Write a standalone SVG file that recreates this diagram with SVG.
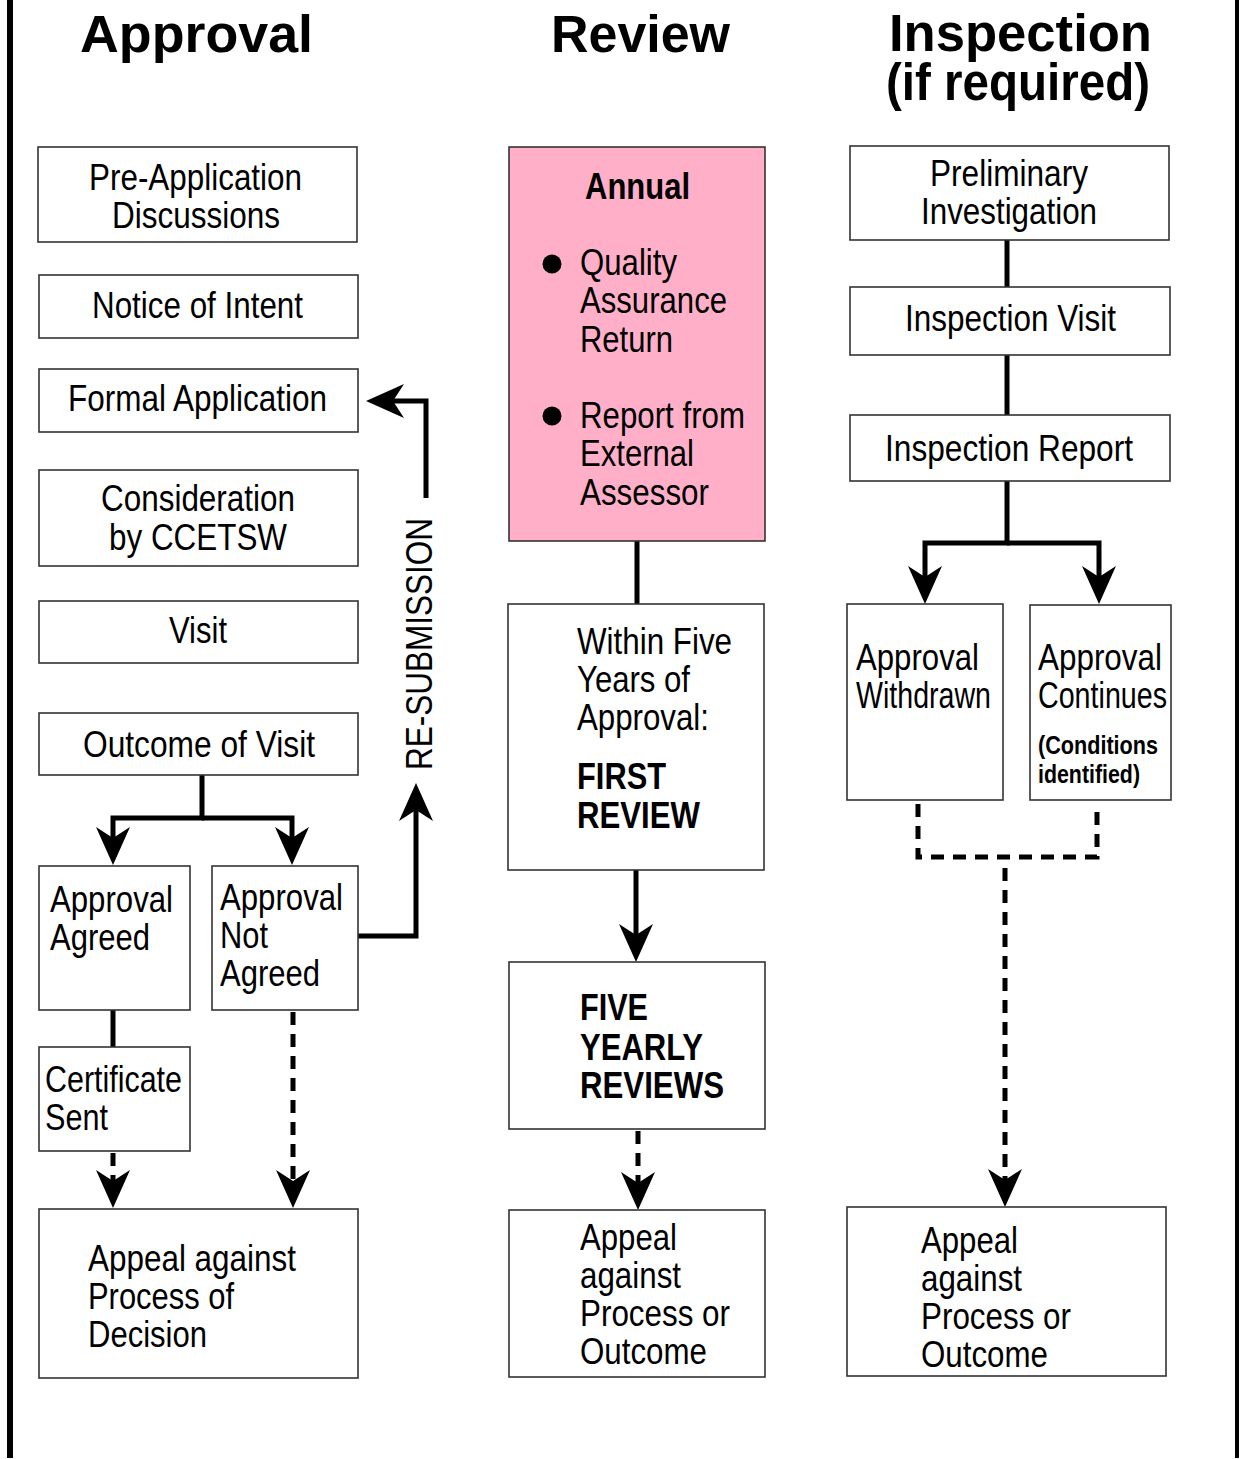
<svg xmlns="http://www.w3.org/2000/svg" width="1239" height="1459" viewBox="0 0 1239 1459">
<style>
.box{fill:#fff;stroke:#333;stroke-width:1.6}
.pink{fill:#ffafc8;stroke:#333;stroke-width:1.6}
.t{font-family:"Liberation Sans Narrow","Liberation Sans",Arial,sans-serif;font-size:36px;fill:#000}
.b{font-weight:bold}
.s{font-size:26px;font-weight:bold}
.h{font-family:"Liberation Sans",Arial,sans-serif;font-size:51px;font-weight:bold;fill:#000}
.ln{fill:none;stroke:#000;stroke-width:5}
.dash{fill:none;stroke:#000;stroke-width:5;stroke-dasharray:13 9}
</style>
<defs>
<marker id="ah" markerUnits="userSpaceOnUse" markerWidth="40" markerHeight="36" viewBox="0 -18 40 36" refX="11" refY="0" orient="auto">
<path d="M0,-17 L38,0 L0,17 L11,0 Z" fill="#000"/>
</marker>
</defs>
<rect x="0" y="0" width="1239" height="1459" fill="#fff"/>
<rect x="7" y="0" width="6" height="1458" fill="#000"/>
<rect x="1235" y="0" width="4" height="1458" fill="#000"/>

<g id="headers">
<text class="h" x="80" y="52" textLength="233" lengthAdjust="spacingAndGlyphs">Approval</text>
<text class="h" x="551" y="52" textLength="179" lengthAdjust="spacingAndGlyphs">Review</text>
<text class="h" x="889" y="51" textLength="263" lengthAdjust="spacingAndGlyphs">Inspection</text>
<text class="h" x="886" y="100" textLength="264" lengthAdjust="spacingAndGlyphs">(if required)</text>
</g>

<g id="connectors">
<polyline class="ln" points="202,775 202,818 113,818 113,838" marker-end="url(#ah)"/>
<polyline class="ln" points="202,818 292,818 292,838" marker-end="url(#ah)"/>
<line class="ln" x1="113" y1="1010" x2="113" y2="1047"/>
<line class="dash" x1="113" y1="1153" x2="113" y2="1181" marker-end="url(#ah)"/>
<line class="dash" x1="293" y1="1012" x2="293" y2="1181" marker-end="url(#ah)"/>
<polyline class="ln" points="358,936 416,936 416,810" marker-end="url(#ah)"/>
<polyline class="ln" points="426,498 426,401 393,401" marker-end="url(#ah)"/>
<line class="ln" x1="637" y1="541" x2="637" y2="604"/>
<line class="ln" x1="636" y1="870" x2="636" y2="935" marker-end="url(#ah)"/>
<line class="dash" x1="638" y1="1131" x2="638" y2="1183" marker-end="url(#ah)"/>
<line class="ln" x1="1007" y1="240" x2="1007" y2="287"/>
<line class="ln" x1="1007" y1="355" x2="1007" y2="415"/>
<polyline class="ln" points="1007,481 1007,543 925,543 925,577" marker-end="url(#ah)"/>
<polyline class="ln" points="1007,543 1099,543 1099,577" marker-end="url(#ah)"/>
<polyline class="dash" points="918,804 918,857 1097,857 1097,804"/>
<line class="dash" x1="1005" y1="868" x2="1005" y2="1180" marker-end="url(#ah)"/>
<text class="t" transform="translate(432,770) rotate(-90)" textLength="252" lengthAdjust="spacingAndGlyphs">RE-SUBMISSION</text>
</g>

<g id="pre-application">
<rect class="box" x="38" y="147" width="319" height="95"/>
<text class="t" x="89" y="190" textLength="213" lengthAdjust="spacingAndGlyphs">Pre-Application</text>
<text class="t" x="112" y="228" textLength="168" lengthAdjust="spacingAndGlyphs">Discussions</text>
</g>
<g id="notice">
<rect class="box" x="39" y="275" width="319" height="63"/>
<text class="t" x="92" y="318" textLength="211" lengthAdjust="spacingAndGlyphs">Notice of Intent</text>
</g>
<g id="formal">
<rect class="box" x="39" y="369" width="319" height="63"/>
<text class="t" x="68" y="411" textLength="259" lengthAdjust="spacingAndGlyphs">Formal Application</text>
</g>
<g id="consideration">
<rect class="box" x="39" y="470" width="319" height="96"/>
<text class="t" x="101" y="511" textLength="194" lengthAdjust="spacingAndGlyphs">Consideration</text>
<text class="t" x="109" y="550" textLength="178" lengthAdjust="spacingAndGlyphs">by CCETSW</text>
</g>
<g id="visit">
<rect class="box" x="39" y="601" width="319" height="62"/>
<text class="t" x="169" y="643" textLength="58" lengthAdjust="spacingAndGlyphs">Visit</text>
</g>
<g id="outcome">
<rect class="box" x="39" y="713" width="319" height="62"/>
<text class="t" x="83" y="757" textLength="232" lengthAdjust="spacingAndGlyphs">Outcome of Visit</text>
</g>
<g id="approval-agreed">
<rect class="box" x="39" y="866" width="151" height="144"/>
<text class="t" x="50" y="912" textLength="123" lengthAdjust="spacingAndGlyphs">Approval</text>
<text class="t" x="50" y="950" textLength="100" lengthAdjust="spacingAndGlyphs">Agreed</text>
</g>
<g id="approval-not-agreed">
<rect class="box" x="212" y="866" width="146" height="144"/>
<text class="t" x="220" y="910" textLength="123" lengthAdjust="spacingAndGlyphs">Approval</text>
<text class="t" x="220" y="948" textLength="48" lengthAdjust="spacingAndGlyphs">Not</text>
<text class="t" x="220" y="986" textLength="100" lengthAdjust="spacingAndGlyphs">Agreed</text>
</g>
<g id="certificate">
<rect class="box" x="39" y="1047" width="151" height="104"/>
<text class="t" x="45" y="1092" textLength="137" lengthAdjust="spacingAndGlyphs">Certificate</text>
<text class="t" x="45" y="1130" textLength="63" lengthAdjust="spacingAndGlyphs">Sent</text>
</g>
<g id="appeal-left">
<rect class="box" x="39" y="1209" width="319" height="169"/>
<text class="t" x="88" y="1271" textLength="208" lengthAdjust="spacingAndGlyphs">Appeal against</text>
<text class="t" x="88" y="1309" textLength="146" lengthAdjust="spacingAndGlyphs">Process of</text>
<text class="t" x="88" y="1347" textLength="119" lengthAdjust="spacingAndGlyphs">Decision</text>
</g>

<g id="annual">
<rect class="pink" x="509" y="147" width="256" height="394"/>
<text class="t b" x="585" y="199" textLength="105" lengthAdjust="spacingAndGlyphs">Annual</text>
<circle cx="552" cy="264" r="9.5" fill="#000"/>
<text class="t" x="580" y="275" textLength="97" lengthAdjust="spacingAndGlyphs">Quality</text>
<text class="t" x="580" y="313" textLength="147" lengthAdjust="spacingAndGlyphs">Assurance</text>
<text class="t" x="580" y="352" textLength="93" lengthAdjust="spacingAndGlyphs">Return</text>
<circle cx="552" cy="416" r="9.5" fill="#000"/>
<text class="t" x="580" y="428" textLength="165" lengthAdjust="spacingAndGlyphs">Report from</text>
<text class="t" x="580" y="466" textLength="114" lengthAdjust="spacingAndGlyphs">External</text>
<text class="t" x="580" y="505" textLength="129" lengthAdjust="spacingAndGlyphs">Assessor</text>
</g>
<g id="first-review">
<rect class="box" x="508" y="604" width="256" height="266"/>
<text class="t" x="577" y="654" textLength="155" lengthAdjust="spacingAndGlyphs">Within Five</text>
<text class="t" x="577" y="692" textLength="113" lengthAdjust="spacingAndGlyphs">Years of</text>
<text class="t" x="577" y="730" textLength="132" lengthAdjust="spacingAndGlyphs">Approval:</text>
<text class="t b" x="577" y="789" textLength="89" lengthAdjust="spacingAndGlyphs">FIRST</text>
<text class="t b" x="577" y="828" textLength="123" lengthAdjust="spacingAndGlyphs">REVIEW</text>
</g>
<g id="five-yearly">
<rect class="box" x="509" y="962" width="256" height="167"/>
<text class="t b" x="580" y="1020" textLength="68" lengthAdjust="spacingAndGlyphs">FIVE</text>
<text class="t b" x="580" y="1060" textLength="123" lengthAdjust="spacingAndGlyphs">YEARLY</text>
<text class="t b" x="580" y="1098" textLength="144" lengthAdjust="spacingAndGlyphs">REVIEWS</text>
</g>
<g id="appeal-middle">
<rect class="box" x="509" y="1210" width="256" height="167"/>
<text class="t" x="580" y="1250" textLength="97" lengthAdjust="spacingAndGlyphs">Appeal</text>
<text class="t" x="580" y="1288" textLength="101" lengthAdjust="spacingAndGlyphs">against</text>
<text class="t" x="580" y="1326" textLength="150" lengthAdjust="spacingAndGlyphs">Process or</text>
<text class="t" x="580" y="1364" textLength="127" lengthAdjust="spacingAndGlyphs">Outcome</text>
</g>

<g id="preliminary">
<rect class="box" x="850" y="146" width="319" height="94"/>
<text class="t" x="930" y="186" textLength="158" lengthAdjust="spacingAndGlyphs">Preliminary</text>
<text class="t" x="921" y="224" textLength="176" lengthAdjust="spacingAndGlyphs">Investigation</text>
</g>
<g id="inspection-visit">
<rect class="box" x="850" y="287" width="320" height="68"/>
<text class="t" x="905" y="331" textLength="211" lengthAdjust="spacingAndGlyphs">Inspection Visit</text>
</g>
<g id="inspection-report">
<rect class="box" x="850" y="415" width="320" height="66"/>
<text class="t" x="885" y="461" textLength="248" lengthAdjust="spacingAndGlyphs">Inspection Report</text>
</g>
<g id="approval-withdrawn">
<rect class="box" x="847" y="604" width="156" height="196"/>
<text class="t" x="856" y="670" textLength="123" lengthAdjust="spacingAndGlyphs">Approval</text>
<text class="t" x="856" y="708" textLength="135" lengthAdjust="spacingAndGlyphs">Withdrawn</text>
</g>
<g id="approval-continues">
<rect class="box" x="1030" y="605" width="141" height="195"/>
<text class="t" x="1038" y="670" textLength="124" lengthAdjust="spacingAndGlyphs">Approval</text>
<text class="t" x="1038" y="708" textLength="129" lengthAdjust="spacingAndGlyphs">Continues</text>
<text class="t s" x="1038" y="754" textLength="120" lengthAdjust="spacingAndGlyphs">(Conditions</text>
<text class="t s" x="1038" y="783" textLength="102" lengthAdjust="spacingAndGlyphs">identified)</text>
</g>
<g id="appeal-right">
<rect class="box" x="847" y="1207" width="319" height="169"/>
<text class="t" x="921" y="1253" textLength="97" lengthAdjust="spacingAndGlyphs">Appeal</text>
<text class="t" x="921" y="1291" textLength="101" lengthAdjust="spacingAndGlyphs">against</text>
<text class="t" x="921" y="1329" textLength="150" lengthAdjust="spacingAndGlyphs">Process or</text>
<text class="t" x="921" y="1367" textLength="127" lengthAdjust="spacingAndGlyphs">Outcome</text>
</g>
</svg>
